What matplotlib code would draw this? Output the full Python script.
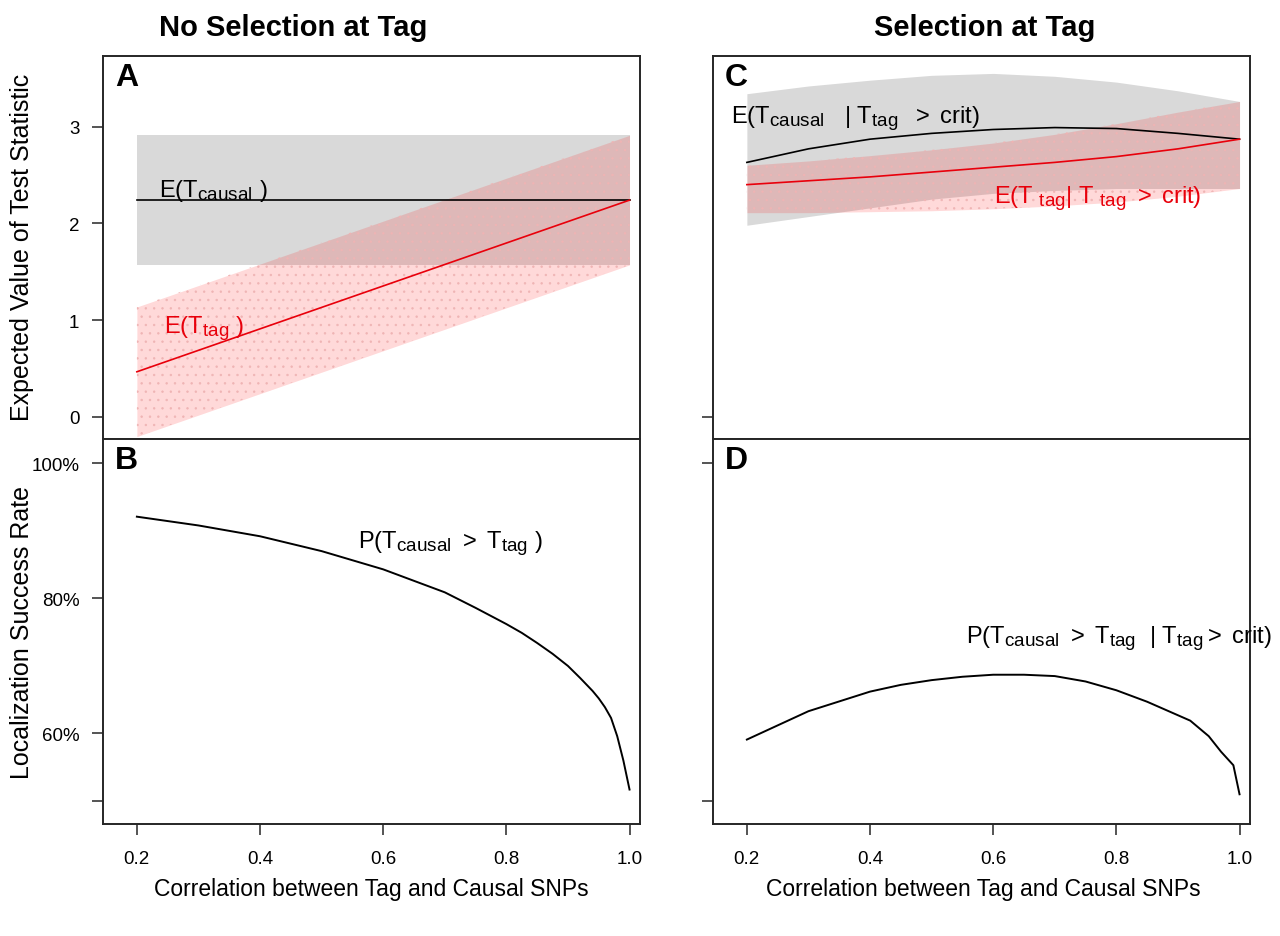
import numpy as np
import matplotlib.pyplot as plt
import matplotlib._mathtext as mathtext_mod

plt.rcParams['font.family'] = ['Liberation Sans', 'DejaVu Sans']
plt.rcParams['mathtext.fontset'] = 'custom'
plt.rcParams['mathtext.rm'] = 'Liberation Sans'
plt.rcParams['mathtext.it'] = 'Liberation Sans:italic'
plt.rcParams['mathtext.bf'] = 'Liberation Sans:bold'
plt.rcParams['hatch.linewidth'] = 0.5
# subscripts a bit larger, like R plotmath
mathtext_mod.SHRINK_FACTOR = 0.8

# Panel A: no selection, straight lines
r_lin = [0.2, 1.0]
a_causal = [2.24, 2.24]
a_causal_lo = [1.57, 1.57]
a_causal_hi = [2.91, 2.91]
a_tag = [0.465, 2.24]
a_tag_lo = [-0.205, 1.57]
a_tag_hi = [1.135, 2.91]

# Panel C: selection at tag
r_c = [0.2, 0.3, 0.4, 0.5, 0.6, 0.7, 0.8, 0.9, 1.0]
c_causal = [2.63, 2.77, 2.87, 2.93, 2.97, 2.99, 2.98, 2.93, 2.87]
c_causal_hi = [3.34, 3.42, 3.48, 3.53, 3.55, 3.52, 3.46, 3.37, 3.26]
c_causal_lo = [1.98, 2.07, 2.16, 2.25, 2.31, 2.34, 2.36, 2.36, 2.36]
c_tag = [2.40, 2.44, 2.48, 2.53, 2.58, 2.63, 2.69, 2.77, 2.87]
c_tag_hi = [2.60, 2.645, 2.70, 2.76, 2.83, 2.92, 3.03, 3.15, 3.26]
c_tag_lo = [2.11, 2.11, 2.12, 2.13, 2.15, 2.18, 2.22, 2.28, 2.36]

# Panel B: localization success, no selection
r_b = [0.2, 0.3, 0.4, 0.5, 0.6, 0.7, 0.75, 0.8, 0.825, 0.85, 0.875, 0.9, 0.92,
       0.94, 0.95, 0.96, 0.97, 0.98, 0.99, 1.0]
b_rate = [0.921, 0.908, 0.892, 0.870, 0.843, 0.809, 0.786, 0.762, 0.749, 0.734,
          0.718, 0.700, 0.682, 0.663, 0.652, 0.639, 0.623, 0.596, 0.560, 0.517]

# Panel D: localization success, selection at tag
r_d = [0.2, 0.3, 0.4, 0.45, 0.5, 0.55, 0.6, 0.65, 0.7, 0.75, 0.8, 0.85, 0.9,
       0.92, 0.95, 0.97, 0.99, 1.0]
d_rate = [0.591, 0.633, 0.662, 0.672, 0.679, 0.684, 0.687, 0.687, 0.685, 0.677,
          0.664, 0.647, 0.627, 0.619, 0.596, 0.573, 0.553, 0.510]

x_ticks = [0.2, 0.4, 0.6, 0.8, 1.0]

GREY = '#d9d9d9'
PINK = (1.0, 0.0, 0.0, 0.15)
RED = '#e8000b'
FRAME = '#262626'

fig = plt.figure(figsize=(12.8, 9.37), dpi=100)
W, H = 1280, 937


def box(x0, y0, x1, y1):
    return [x0 / W, 1 - y1 / H, (x1 - x0) / W, (y1 - y0) / H]


axA = fig.add_axes(box(103, 57, 640, 440))
axB = fig.add_axes(box(103, 440, 640, 825))
axC = fig.add_axes(box(713, 57, 1250, 440))
axD = fig.add_axes(box(713, 440, 1250, 825))

for ax in (axA, axB, axC, axD):
    ax.set_xlim(0.145, 1.017)
    for s in ax.spines.values():
        s.set_color(FRAME)
        s.set_linewidth(1.4)
    ax.tick_params(direction='out', length=8, width=1.1, color=FRAME,
                   labelsize=13.5, pad=9)
for ax in (axA, axC):
    ax.set_ylim(-0.23, 3.73)
    ax.set_xticks([])
for ax in (axB, axD):
    ax.set_ylim(0.466, 1.036)
    ax.set_xticks(x_ticks)
    ax.set_xticklabels(['0.2', '0.4', '0.6', '0.8', '1.0'])
    ax.tick_params(axis='x', pad=11)

axA.set_yticks([0, 1, 2, 3])
axC.set_yticks([0])
axC.set_yticklabels([''])
axB.set_yticks([0.5, 0.6, 0.8, 1.0])
axB.set_yticklabels(['', '60%', '80%', '100%'])
axD.set_yticks([0.5, 1.0])
axD.set_yticklabels(['', ''])


def bands(ax, x, lo1, hi1, lo2, hi2):
    ax.fill_between(x, lo1, hi1, color=GREY, lw=0, zorder=1)
    ax.fill_between(x, lo2, hi2, color=PINK, lw=0, zorder=2)
    ax.fill_between(x, lo2, hi2, facecolor='none', edgecolor='#efb4b4',
                    hatch='..', lw=0, zorder=2)


# Panel A
bands(axA, r_lin, a_causal_lo, a_causal_hi, a_tag_lo, a_tag_hi)
axA.plot(r_lin, a_causal, color='black', lw=1.2, zorder=3)
axA.plot(r_lin, a_tag, color=RED, lw=1.2, zorder=3)
axA.text(0.236, 2.28, r'$\mathregular{E(T_{causal}\ )}$', fontsize=17, zorder=4)
axA.text(0.244, 0.88, r'$\mathregular{E(T_{tag}\ )}$', fontsize=17, color=RED, zorder=4)

# Panel C
bands(axC, r_c, c_causal_lo, c_causal_hi, c_tag_lo, c_tag_hi)
axC.plot(r_c, c_causal, color='black', lw=1.2, zorder=3)
axC.plot(r_c, c_tag, color=RED, lw=1.2, zorder=3)
axC.text(0.174, 3.05, r'$\mathregular{E(T_{causal}\ \ \ |\ T_{tag}\ \ >\ crit)}$',
         fontsize=17, zorder=4)
axC.text(0.602, 2.22, r'$\mathregular{E(T\ {}_{tag}|\ T\ {}_{tag}\ >\ crit)}$',
         fontsize=17, color=RED, zorder=4)

# Panel B
axB.plot(r_b, b_rate, color='black', lw=1.4)
axB.text(0.559, 0.876, r'$\mathregular{P(T_{causal}\ >\ T_{tag}\ )}$', fontsize=17)

# Panel D
axD.plot(r_d, d_rate, color='black', lw=1.4)
axD.text(0.556, 0.736, r'$\mathregular{P(T_{causal}\ >\ T_{tag}\ \ |\ T_{tag}>\ crit)}$',
         fontsize=17)

for ax, lab in ((axA, 'A'), (axB, 'B'), (axC, 'C'), (axD, 'D')):
    ax.text(0.022, 0.985, lab, transform=ax.transAxes, fontsize=23,
            fontweight='bold', ha='left', va='top', zorder=5)

fig.text(293 / W, 1 - 28 / H, 'No Selection at Tag', fontsize=21,
         fontweight='bold', ha='center', va='center')
fig.text(985 / W, 1 - 28 / H, 'Selection at Tag', fontsize=21,
         fontweight='bold', ha='center', va='center')
fig.text(22 / W, 1 - 247 / H, 'Expected Value of Test Statistic', fontsize=18,
         rotation=90, ha='center', va='center')
fig.text(22 / W, 1 - 633 / H, 'Localization Success Rate', fontsize=18,
         rotation=90, ha='center', va='center')
fig.text(371 / W, 1 - 890 / H, 'Correlation between Tag and Causal SNPs',
         fontsize=16.5, ha='center', va='center')
fig.text(983 / W, 1 - 890 / H, 'Correlation between Tag and Causal SNPs',
         fontsize=16.5, ha='center', va='center')

fig.savefig('out.png', dpi=100)
